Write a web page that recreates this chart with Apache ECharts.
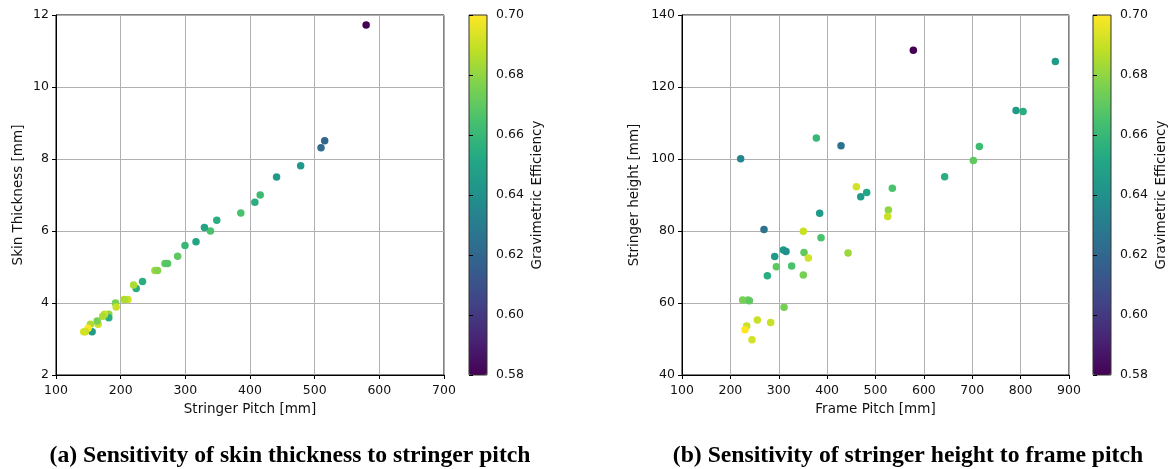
<!DOCTYPE html>
<html>
<head>
<meta charset="utf-8">
<script src="https://cdn.jsdelivr.net/npm/echarts@6/dist/echarts.min.js"></script>
<style>
html,body{margin:0;padding:0;background:#fff;}
#c{width:1171px;height:469px;}
</style>
</head>
<body>
<div id="c"></div>
<script>
// (a) Skin thickness vs stringer pitch
const stringerPitch = [579.6, 515.5, 509.8, 478.3, 441.1, 415.8, 407.5, 385.8, 348.6, 338.8, 329.5, 316.5, 299.5, 288.1, 268.5, 272.5, 253.0, 257.0, 233.8, 224.0, 219.9, 211.1, 205.4, 192.0, 193.0, 181.6, 181.6, 175.0, 172.3, 165.1, 163.6, 153.2, 155.8, 149.6, 145.5, 142.9];
const skinThickness = [11.72, 8.51, 8.31, 7.81, 7.50, 7.00, 6.80, 6.50, 6.30, 6.00, 6.10, 5.70, 5.60, 5.30, 5.10, 5.10, 4.90, 4.90, 4.60, 4.40, 4.50, 4.10, 4.10, 4.00, 3.89, 3.69, 3.59, 3.69, 3.63, 3.41, 3.50, 3.41, 3.20, 3.30, 3.20, 3.20];
const effA = [0.580, 0.620, 0.622, 0.645, 0.645, 0.662, 0.655, 0.665, 0.655, 0.665, 0.650, 0.650, 0.660, 0.670, 0.670, 0.668, 0.682, 0.678, 0.655, 0.655, 0.685, 0.690, 0.685, 0.675, 0.690, 0.680, 0.655, 0.690, 0.685, 0.690, 0.675, 0.685, 0.645, 0.700, 0.690, 0.692];

// (b) Stringer height vs frame pitch
const framePitch = [578.2, 871.8, 790.5, 805.0, 377.7, 428.7, 714.7, 221.3, 702.3, 643.0, 460.4, 534.8, 481.8, 469.4, 526.6, 525.2, 384.6, 269.5, 350.8, 387.4, 309.5, 315.0, 352.2, 443.2, 361.2, 291.6, 326.7, 295.0, 276.4, 350.8, 225.4, 236.4, 239.2, 310.9, 255.7, 283.3, 233.7, 230.2, 244.7];
const stringerHeight = [130.2, 127.1, 113.5, 113.2, 105.8, 103.7, 103.5, 100.1, 99.6, 95.1, 92.3, 91.9, 90.7, 89.5, 85.8, 84.0, 84.9, 80.4, 79.9, 78.1, 74.7, 74.3, 74.0, 73.9, 72.5, 72.9, 70.3, 70.1, 67.6, 67.8, 60.8, 60.8, 60.6, 58.8, 55.3, 54.6, 53.6, 52.6, 49.8];
const effB = [0.580, 0.645, 0.645, 0.655, 0.660, 0.625, 0.662, 0.635, 0.670, 0.655, 0.692, 0.665, 0.650, 0.645, 0.680, 0.690, 0.645, 0.625, 0.690, 0.665, 0.645, 0.640, 0.670, 0.682, 0.692, 0.645, 0.665, 0.670, 0.655, 0.675, 0.675, 0.675, 0.670, 0.675, 0.690, 0.690, 0.690, 0.700, 0.692];

const cbTicks = [0.58, 0.60, 0.62, 0.64, 0.66, 0.68, 0.70];
const titles = ['(a) Sensitivity of skin thickness to stringer pitch', '(b) Sensitivity of stringer height to frame pitch'];

const viridis = ['#440154','#482475','#414487','#355f8d','#2a788e','#21918c','#22a884','#44bf70','#7ad151','#bddf26','#fde725'];

const dataA = stringerPitch.map((x, i) => [x, skinThickness[i], effA[i]]);
const dataB = framePitch.map((x, i) => [x, stringerHeight[i], effB[i]]);

const FONT = 'DejaVu Sans';
const FS = 12.5;
const NFS = 13.5;
const axisText = {color: '#111', fontFamily: FONT, fontSize: FS};

function valAxis(min, max, interval, name, gap, extra) {
  return Object.assign({
    type: 'value', min: min, max: max, interval: interval,
    name: name, nameLocation: 'middle', nameGap: gap,
    nameTextStyle: {color: '#111', fontFamily: FONT, fontSize: NFS},
    axisLine: {show: true, lineStyle: {color: '#000', width: 1}},
    axisTick: {show: true, length: 4, lineStyle: {color: '#000', width: 1}},
    axisLabel: Object.assign({margin: 7}, axisText),
    splitLine: {show: true, lineStyle: {color: '#b0b0b0', width: 1}}
  }, extra || {});
}

const cbMin = cbTicks[0] * 100, cbMax = cbTicks[cbTicks.length - 1] * 100;

const captionStyle = {fontFamily: 'Liberation Serif', fontWeight: 'bold', fontSize: 23.7, color: '#000'};
const xLabel = Object.assign({margin: 9}, axisText);
const cbLabel = Object.assign({margin: 9, formatter: v => (v / 100).toFixed(2)}, axisText);

const option = {
  animation: false,
  backgroundColor: '#fff',
  title: [
    {text: titles[0], left: 290, top: 444, textAlign: 'center', padding: 0, textStyle: captionStyle},
    {text: titles[1], left: 908, top: 444, textAlign: 'center', padding: 0, textStyle: captionStyle}
  ],
  grid: [
    {left: 56, top: 15, width: 388, height: 360, show: true, borderColor: '#000', borderWidth: 1, backgroundColor: 'transparent'},
    {left: 682, top: 15, width: 387, height: 360, show: true, borderColor: '#000', borderWidth: 1, backgroundColor: 'transparent'},
    {left: 469, top: 15, width: 18, height: 360, show: true, borderColor: '#333', borderWidth: 1, backgroundColor: 'transparent', z: 10},
    {left: 1093, top: 15, width: 18, height: 360, show: true, borderColor: '#333', borderWidth: 1, backgroundColor: 'transparent', z: 10}
  ],
  xAxis: [
    valAxis(100, 700, 100, 'Stringer Pitch [mm]', 27, {gridIndex: 0, axisLabel: xLabel}),
    valAxis(100, 900, 100, 'Frame Pitch [mm]', 27, {gridIndex: 1, axisLabel: xLabel}),
    {gridIndex: 2, type: 'value', min: 0, max: 1, show: false},
    {gridIndex: 3, type: 'value', min: 0, max: 1, show: false}
  ],
  yAxis: [
    valAxis(2, 12, 2, 'Skin Thickness [mm]', 31, {gridIndex: 0}),
    valAxis(40, 140, 20, 'Stringer height [mm]', 41, {gridIndex: 1}),
    valAxis(cbMin, cbMax, 2, 'Gravimetric Efficiency', 43, {
      gridIndex: 2, position: 'right', z: 10,
      axisLine: {show: false}, splitLine: {show: false}, axisLabel: cbLabel
    }),
    valAxis(cbMin, cbMax, 2, 'Gravimetric Efficiency', 43, {
      gridIndex: 3, position: 'right', z: 10,
      axisLine: {show: false}, splitLine: {show: false}, axisLabel: cbLabel
    })
  ],
  visualMap: [
    {type: 'continuous', min: cbTicks[0], max: cbTicks[cbTicks.length - 1], dimension: 2, seriesIndex: 0,
     inRange: {color: viridis}, left: 469, top: 15, itemWidth: 18, itemHeight: 360, padding: 0,
     calculable: false, hoverLink: false, text: null, showLabel: false},
    {type: 'continuous', min: cbTicks[0], max: cbTicks[cbTicks.length - 1], dimension: 2, seriesIndex: 1,
     inRange: {color: viridis}, left: 1093, top: 15, itemWidth: 18, itemHeight: 360, padding: 0,
     calculable: false, hoverLink: false, text: null, showLabel: false}
  ],
  series: [
    {type: 'scatter', xAxisIndex: 0, yAxisIndex: 0, data: dataA, symbolSize: 7.5, itemStyle: {opacity: 1}},
    {type: 'scatter', xAxisIndex: 1, yAxisIndex: 1, data: dataB, symbolSize: 7.5, itemStyle: {opacity: 1}}
  ]
};

const chart = echarts.init(document.getElementById('c'), null, {renderer: 'canvas'});
chart.setOption(option);
</script>
</body>
</html>
